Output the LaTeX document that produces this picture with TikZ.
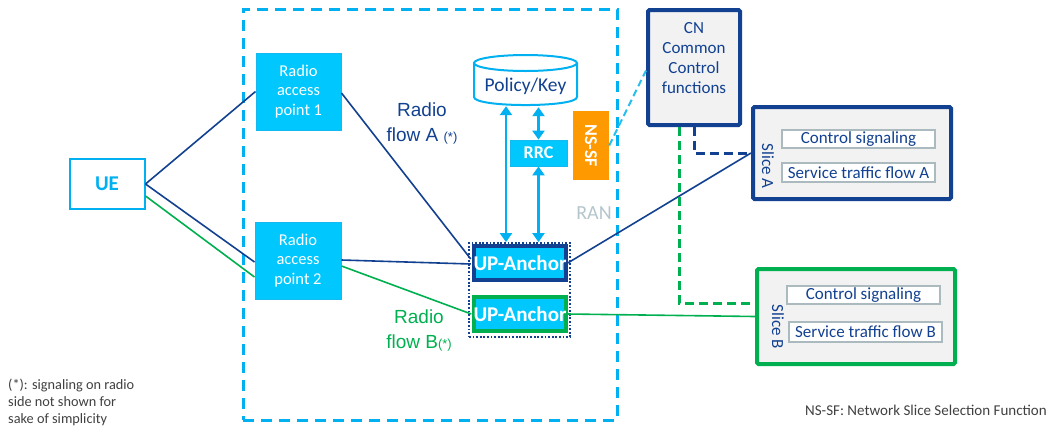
\documentclass[tikz,border=0pt]{standalone}
\usepackage{fontspec}
\setmainfont{Carlito}
\newfontfamily\arialf{Liberation Sans}
\usetikzlibrary{arrows.meta,calc}
\definecolor{ncyan}{RGB}{0,176,240}
\definecolor{nfill}{RGB}{0,200,255}
\definecolor{nfillb}{RGB}{20,185,240}
\definecolor{nblue}{RGB}{18,65,145}
\definecolor{ngreen}{RGB}{0,176,80}
\definecolor{norange}{RGB}{255,153,0}
\definecolor{ngrayfill}{RGB}{242,242,242}
\definecolor{ninner}{RGB}{170,186,190}
\definecolor{nrantext}{RGB}{180,198,204}
\definecolor{nnote}{RGB}{64,64,64}
\definecolor{nlcyan}{RGB}{40,190,240}
\begin{document}
\begin{tikzpicture}[x=1pt,y=-1pt,
  rapbox/.style={draw=nfillb, fill=nfill, text=white, minimum width=85pt, minimum height=77pt, inner sep=0pt, align=center, line width=1pt, font=\fontsize{16.5}{19.5}\selectfont},
  upbox/.style={fill=nfill, text=white, minimum width=92pt, minimum height=34pt, inner sep=0pt, line width=3.5pt, font=\bfseries\fontsize{21}{21}\selectfont},
  slicebox/.style={draw=#1, fill=ngrayfill, line width=4pt, rounded corners=1.5pt, minimum width=198pt, inner sep=0pt},
  innerbox/.style={draw=ninner, fill=white, line width=2.5pt, minimum width=153pt, inner sep=0pt, text=nblue, font=\fontsize{17}{17}\selectfont},
  conn/.style={draw=#1, line width=1.6pt},
  arr/.style={draw=ncyan, line width=2.4pt, {Triangle[width=12pt,length=9pt]}-{Triangle[width=12pt,length=9pt]}},
  note/.style={text=nnote, align=left, font=\fontsize{14.3}{17}\selectfont},
]
\useasboundingbox (0,0) rectangle (1053,432);

% RAN dashed box
\node[draw=ncyan, line width=3pt, dash pattern=on 11pt off 7pt, minimum width=374pt, minimum height=411pt, inner sep=0pt] (ran) at (430,214.5) {};
\node[text=nrantext, font=\fontsize{20}{20}\selectfont] (ranl) at (594,213) {RAN};

% UE
\node[draw=ncyan, line width=2pt, text=ncyan, minimum width=75pt, minimum height=50pt, font=\bfseries\fontsize{21}{21}\selectfont] (ue) at (107,184) {UE};

% Radio access points
\node[rapbox] (rap1) at (298.5,91.5) {Radio\\access\\point 1};
\node[rapbox, minimum width=86pt] (rap2) at (298,260.5) {Radio\\access\\point 2};

% Policy/Key cylinder
\node[minimum width=103pt, minimum height=51pt, inner sep=0pt] (pk) at (525.5,80.5) {};
\draw[ncyan, line width=2pt, fill=white] (474,63) -- (474,97) .. controls (474,107.7) and (577,107.7) .. (577,97) -- (577,63);
\draw[ncyan, line width=2pt, fill=white] (525.5,63) ellipse [x radius=51.5, y radius=8];
\node[text=nblue, font=\fontsize{19.5}{19.5}\selectfont] (pkt) at (525.5,86) {Policy/Key};

% RRC
\node[fill=nfill, draw=nfillb, line width=0.8pt, text=white, minimum width=57pt, minimum height=26pt, inner sep=0pt, font=\bfseries\fontsize{18}{18}\selectfont] (rrc) at (538.5,153) {RRC};

% NS-SF
\node[fill=norange, minimum width=36pt, minimum height=69pt, inner sep=0pt] (nssf) at (591,145.5) {};
\node[rotate=-90, text=white, font=\bfseries\fontsize{18}{18}\selectfont] (nssft) at (nssf.center) {NS-SF};

% UP anchors
\node[draw=nblue, line width=1.8pt, dash pattern=on 1.8pt off 1.8pt, minimum width=101pt, minimum height=94pt, inner sep=0pt] (upg) at (519.5,290) {};
\node[upbox, draw=nblue] (upa) at (520,263) {\makebox[0pt]{UP-Anchor}};
\node[upbox, draw=ngreen] (upb) at (520,314) {\makebox[0pt]{UP-Anchor}};

% arrows
\draw[arr] ([xshift=-19.5pt]pk.south) -- ([xshift=-19.5pt]pk.south |- upg.north);
\draw[arr] ([yshift=-1pt]pk.south -| rrc.north) -- (rrc.north);
\draw[arr] (rrc.south) -- (rrc.south |- upg.north);

% CN
\node[draw=nblue, fill=ngrayfill, line width=4pt, rounded corners=1.5pt, minimum width=92pt, minimum height=115pt, inner sep=0pt] (cn) at (694,67.5) {};
\node[text=nblue, align=center, font=\fontsize{17}{19.7}\selectfont] (cnt) at (694,58) {CN\\Common\\Control\\functions};

% Slices
\node[slicebox=nblue, minimum height=92pt] (sla) at (852,153) {};
\node[slicebox=ngreen, minimum height=95pt] (slb) at (856,316.5) {};
\node[innerbox, minimum height=18pt] (sa1) at (858.5,139) {Control signaling};
\node[innerbox, minimum height=19pt] (sa2) at (858.5,172.5) {Service traffic flow A};
\node[innerbox, minimum height=18pt] (sb1) at (863.5,295) {Control signaling};
\node[innerbox, minimum height=20pt] (sb2) at (865.5,332) {Service traffic flow B};
\node[rotate=-90, text=nblue, font=\fontsize{17}{17}\selectfont] (slat) at (768,166) {Slice A};
\node[rotate=-90, text=nblue, font=\fontsize{17}{17}\selectfont] (slbt) at (778,327) {Slice B};

% connectors
\draw[conn=nblue] (ue.east) -- (rap1.west);
\draw[conn=nblue] (ue.east) -- ([yshift=-1.5pt]rap2.west);
\draw[conn=ngreen] ([yshift=-12pt]ue.east) -- ([yshift=-16.5pt]rap2.west);
\draw[conn=nblue] ([yshift=-1.5pt]rap1.east) -- ([yshift=4pt,xshift=-1.5pt]upa.west);
\draw[conn=nblue] ([yshift=0.5pt]rap2.east) -- ([yshift=-1pt,xshift=-1.5pt]upa.west);
\draw[conn=ngreen] ([yshift=-5.5pt]rap2.east) -- ([xshift=-1pt]upb.west);
\draw[conn=nblue] (upa.east) -- (sla.west);
\draw[conn=ngreen] (upb.east) -- (slb.west);
\draw[draw=nblue, line width=3pt, dash pattern=on 9pt off 5pt] (cn.south) |- (sla.west);
\draw[draw=ngreen, line width=3pt, dash pattern=on 9pt off 5pt] ([xshift=-15pt]cn.south) |- ([yshift=13.5pt]slb.west);
\draw[draw=nlcyan, line width=2pt, dash pattern=on 7pt off 4pt] (nssf.east) -- ([yshift=-3pt]cn.west);

% labels
\node[text=nblue, align=center, font=\arialf\fontsize{19}{25}\selectfont] (rfa) at (422,123) {Radio\\flow A {\fontsize{13}{13}\selectfont(*)}};
\node[text=ngreen, align=center, font=\arialf\fontsize{19}{25}\selectfont] (rfb) at (419,330) {Radio\\flow B{\fontsize{13}{13}\selectfont(*)}};

\node[note, anchor=north west, inner sep=0pt] (fn) at (8,379) {(*): signaling on radio\\side not shown for\\sake of simplicity};
\node[note, anchor=west, inner sep=0pt, font=\fontsize{15}{15}\selectfont] (leg) at (805,410) {NS-SF: Network Slice Selection Function};
\end{tikzpicture}
\end{document}
